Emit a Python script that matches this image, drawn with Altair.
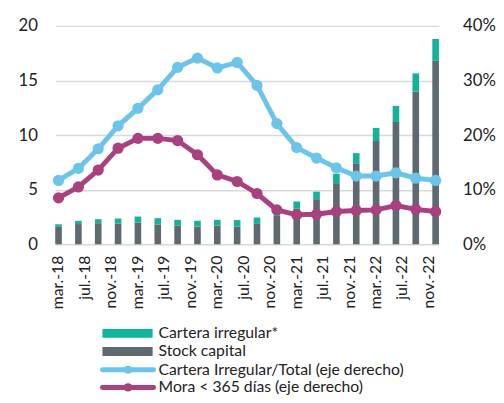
import altair as alt
import pandas as pd

# ---------------- data ----------------
month_names = ["ene", "feb", "mar", "abr", "may", "jun", "jul", "ago", "sep", "oct", "nov", "dic"]
years = ["18", "19", "20", "21", "22"]
months = [f"{m}.-{y}" for y in years for m in month_names][2:]  # mar.-18 ... dic.-22
label_months = ["mar.-18", "jul.-18", "nov.-18", "mar.-19", "jul.-19", "nov.-19", "mar.-20", "jul.-20",
                "nov.-20", "mar.-21", "jul.-21", "nov.-21", "mar.-22", "jul.-22", "nov.-22"]

quarters = ["mar.-18", "jun.-18", "sep.-18", "dic.-18",
            "mar.-19", "jun.-19", "sep.-19", "dic.-19",
            "mar.-20", "jun.-20", "sep.-20", "dic.-20",
            "mar.-21", "jun.-21", "sep.-21", "dic.-21",
            "mar.-22", "jun.-22", "sep.-22", "dic.-22"]

stock_capital = [1.60, 1.85, 1.93, 1.90, 1.99, 1.82, 1.70, 1.62, 1.70, 1.62,
                 1.87, 2.60, 3.28, 4.13, 5.60, 7.42, 9.46, 11.20, 14.00, 16.80]
cartera_irregular = [0.23, 0.30, 0.37, 0.46, 0.55, 0.57, 0.54, 0.54, 0.54, 0.60,
                     0.58, 0.55, 0.64, 0.69, 0.86, 0.93, 1.20, 1.47, 1.65, 2.00]
irregular_total = [11.7, 13.9, 17.5, 21.7, 24.9, 28.3, 32.4, 34.1, 32.3, 33.3,
                   29.1, 22.1, 17.7, 15.8, 14.0, 12.5, 12.5, 13.1, 12.1, 11.7]
mora_365 = [8.5, 10.5, 13.6, 17.6, 19.4, 19.4, 19.0, 16.4, 12.7, 11.5,
            9.3, 6.3, 5.4, 5.5, 6.0, 6.2, 6.3, 7.1, 6.4, 6.0]

series_names = ["Cartera irregular*", "Stock capital",
                "Cartera Irregular/Total (eje derecho)", "Mora < 365 días (eje derecho)"]
series_colors = ["#12B39A", "#5E6970", "#6DC4EB", "#A9417F"]

FONT = "Lato"
TXT = "#222222"

# ---------------- tables ----------------
bars_df = pd.DataFrame(
    [{"mes": q, "serie": "Stock capital", "valor": s, "orden": 0} for q, s in zip(quarters, stock_capital)]
    + [{"mes": q, "serie": "Cartera irregular*", "valor": c, "orden": 1} for q, c in zip(quarters, cartera_irregular)]
)
lines_df = pd.DataFrame(
    [{"mes": q, "serie": series_names[2], "valor": v} for q, v in zip(quarters, irregular_total)]
    + [{"mes": q, "serie": series_names[3], "valor": v} for q, v in zip(quarters, mora_365)]
)

x_axis = alt.Axis(values=label_months, labelAngle=-90, title=None, domain=False, ticks=False,
                  labelPadding=11, labelFontSize=16, labelFont=FONT, labelColor=TXT, grid=False)
x_scale = alt.Scale(domain=months, paddingInner=0, paddingOuter=0)

bars = alt.Chart(bars_df).mark_bar().encode(
    x=alt.X("mes:N", sort=months, scale=x_scale, axis=x_axis),
    y=alt.Y("valor:Q", stack="zero",
            scale=alt.Scale(domain=[0, 20], nice=False),
            axis=alt.Axis(values=[0, 5, 10, 15, 20], title=None, domain=False, ticks=False,
                          domainOpacity=0, labelPadding=18, labelFontSize=17, labelFont=FONT,
                          labelColor=TXT, grid=True, gridColor="#D9D9D9", gridWidth=1.5)),
    color=alt.Color("serie:N", scale=alt.Scale(domain=series_names[:2], range=series_colors[:2]), legend=None),
    order=alt.Order("orden:Q"),
)

y_right = alt.Y("valor:Q",
                scale=alt.Scale(domain=[0, 40], nice=False),
                axis=alt.Axis(values=[0, 10, 20, 30, 40], orient="right", title=None, domain=False, ticks=False,
                              domainOpacity=0, labelPadding=24, labelFontSize=17, labelFont=FONT,
                              labelColor=TXT, labelExpr="datum.value + '%'", grid=False))
line_color = alt.Color("serie:N", scale=alt.Scale(domain=series_names[2:], range=series_colors[2:]), legend=None)

lines = alt.Chart(lines_df).mark_line(
    strokeWidth=5,
    point=alt.OverlayMarkDef(filled=True, size=130, opacity=1),
).encode(
    x=alt.X("mes:N", sort=months, scale=x_scale, axis=x_axis),
    y=y_right,
    color=line_color,
)

# ---------------- manual legend ----------------
leg_df = pd.DataFrame({"serie": series_names, "color": series_colors})
row_y = [312.5, 331, 349.5, 367.5]
legend_layers = []
for i, (name, col) in enumerate(zip(series_names, series_colors)):
    d = leg_df[leg_df["serie"] == name]
    if i < 2:
        legend_layers.append(alt.Chart(d).mark_rect(color=col).encode(
            x=alt.value(48), x2=alt.value(99), y=alt.value(row_y[i] - 4.5), y2=alt.value(row_y[i] + 4.5)))
    else:
        legend_layers.append(alt.Chart(d).mark_rule(color=col, strokeWidth=5, strokeCap="round").encode(
            x=alt.value(48), x2=alt.value(100), y=alt.value(row_y[i]), y2=alt.value(row_y[i])))
        legend_layers.append(alt.Chart(d).mark_point(color=col, filled=True, size=70, opacity=1).encode(
            x=alt.value(74), y=alt.value(row_y[i])))
    legend_layers.append(alt.Chart(d).mark_text(align="left", baseline="middle", font=FONT, fontSize=16,
                                                color=TXT).encode(
        x=alt.value(105), y=alt.value(row_y[i]), text="serie:N"))

chart = alt.layer(bars, lines, *legend_layers).resolve_scale(
    y="independent", color="independent"
).properties(
    width=390, height=222,
    view=alt.ViewBackground(stroke="transparent", strokeWidth=0),
    autosize=alt.AutoSizeParams(type="none"),
    padding={"left": 48, "top": 15, "right": 58, "bottom": 150},
).configure(
    style={"cell": {"stroke": "transparent", "strokeWidth": 0}}
).configure_view(stroke="transparent", strokeWidth=0).configure_axis(
    domain=False, ticks=False, domainColor="transparent", domainOpacity=0, domainWidth=0
).configure_axisLeft(domain=False, domainWidth=0).configure_axisRight(
    domain=False, domainWidth=0
).configure_axisX(grid=False, gridOpacity=0)

chart.save("out.html", embed_options={"renderer": "svg", "actions": False})
